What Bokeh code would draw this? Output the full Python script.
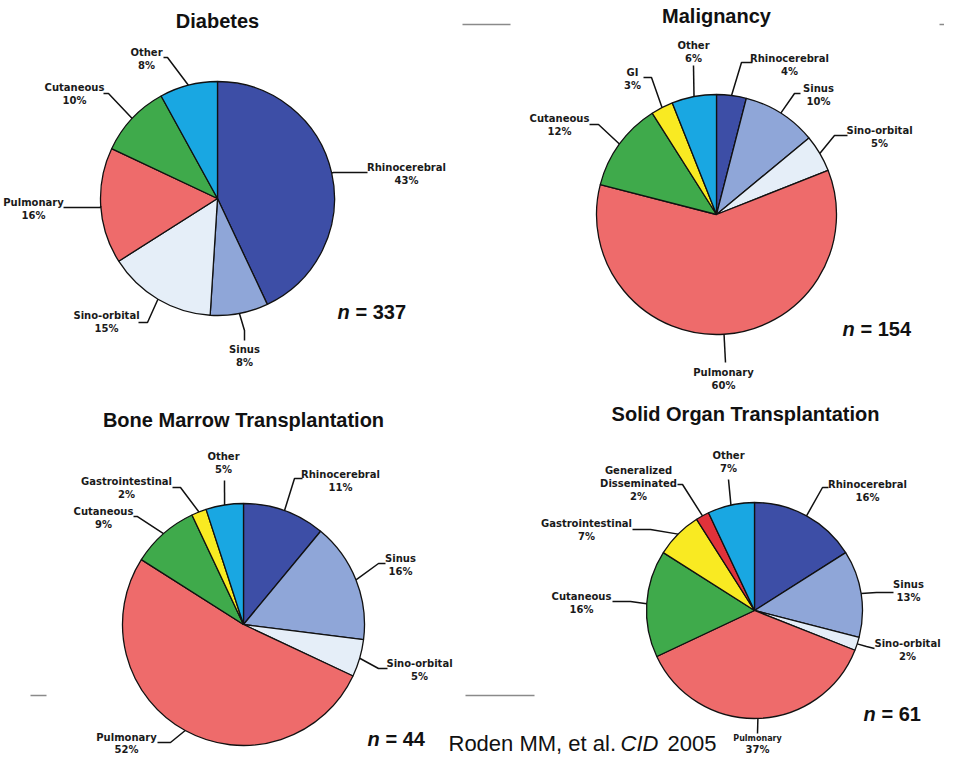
import math
from bokeh.plotting import figure
from bokeh.models import Range1d, ColumnDataSource
from bokeh.core.properties import value
from bokeh.embed import file_html
from bokeh.resources import INLINE

# ---------------- data ----------------
diab_cats = ["Rhinocerebral", "Sinus", "Sino-orbital", "Pulmonary", "Cutaneous", "Other"]
diab_vals = [43, 8, 15, 16, 10, 8]
diab_n = 337

malig_cats = ["Rhinocerebral", "Sinus", "Sino-orbital", "Pulmonary", "Cutaneous", "GI", "Other"]
malig_vals = [4, 10, 5, 60, 12, 3, 6]
malig_n = 154

bmt_cats = ["Rhinocerebral", "Sinus", "Sino-orbital", "Pulmonary", "Cutaneous", "Gastrointestinal", "Other"]
bmt_vals = [11, 16, 5, 52, 9, 2, 5]
bmt_n = 44

sot_cats = ["Rhinocerebral", "Sinus", "Sino-orbital", "Pulmonary", "Cutaneous",
            "Gastrointestinal", "Generalized Disseminated", "Other"]
sot_vals = [16, 13, 2, 37, 16, 7, 2, 7]
sot_n = 61

titles = ["Diabetes", "Malignancy", "Bone Marrow Transplantation", "Solid Organ Transplantation"]
citation = ["Roden MM, et al.", "CID", "2005"]

# ---------------- styles ----------------
COLORS = {
    "Rhinocerebral": "#3D4EA6",
    "Sinus": "#8FA6D8",
    "Sino-orbital": "#E5EEF8",
    "Pulmonary": "#EE6B6B",
    "Cutaneous": "#3FAA4B",
    "GI": "#F9EA22",
    "Gastrointestinal": "#F9EA22",
    "Generalized Disseminated": "#E0323A",
    "Other": "#19A7E2",
}
DISPLAY = {"Generalized Disseminated": ["Generalized", "Disseminated"]}

LABEL_FONT = "DejaVu Sans"
LABEL_SIZE = 10
TITLE_FONT = "Liberation Sans"

# layout (picture pixel coordinates): pie centre/radius, title, n-label, and for every
# slice: elbow point, leader end point, label anchor (first line centre)
LAYOUTS = [
    dict(c=(217, 198), r=117, title=(217, 20), n=(337, 311),
         lab=[((333, 172), (367, 172), (406, 167)),
              ((244, 330), (244, 340), (244, 349)),
              ((147, 322), (138, 322), (106, 315)),
              ((100, 207), (63, 207), (33, 202)),
              ((108, 93), (103, 93), (74, 87)),
              ((167, 57), (163, 57), (146, 52))]),
    dict(c=(716, 214), r=120, title=(716, 15), n=(842, 328),
         lab=[((741, 62), (752, 62), (789, 58)),
              ((794, 93), (800, 93), (818, 88)),
              ((834, 135), (847, 135), (879, 130)),
              ((725, 362), (725, 362), (723, 372)),
              ((598, 124), (589, 124), (559, 118)),
              ((651, 77), (643, 77), (632, 72)),
              ((693, 65), (693, 65), (693, 45))]),
    dict(c=(243, 624), r=121, title=(243, 419), n=(367, 738),
         lab=[((294, 478), (302, 478), (340, 474)),
              ((378, 563), (385, 563), (400, 558)),
              ((378, 668), (387, 668), (419, 663)),
              ((170, 742), (157, 742), (126, 737)),
              ((137, 516), (133, 516), (103, 511)),
              ((180, 487), (172, 487), (126, 481)),
              ((224, 480), (224, 480), (223, 456))]),
    dict(c=(754, 610), r=108, title=(745, 413), n=(863, 713),
         lab=[((822, 487), (828, 487), (867, 484)),
              ((876, 592), (893, 592), (908, 584)),
              ((866, 646), (874, 648), (907, 643)),
              ((757, 733), (757, 733), (757, 738)),
              ((630, 601), (612, 601), (581, 596)),
              ((650, 529), (632, 529), (586, 523)),
              ((682, 484), (677, 484), (638, 470)),
              ((728, 479), (728, 479), (728, 455))]),
]
SMALL_NAME = {(3, 3): 8}   # chart 4, Pulmonary name drawn smaller
LINE_GAP = {(3, 3): 11, (2, 3): 12}

charts = [
    (diab_cats, diab_vals, diab_n),
    (malig_cats, malig_vals, malig_n),
    (bmt_cats, bmt_vals, bmt_n),
    (sot_cats, sot_vals, sot_n),
]

W, H = 944, 757


def Y(yp):
    return H - yp


p = figure(width=W, height=H, x_range=Range1d(0, W), y_range=Range1d(0, H),
           output_backend="svg", toolbar_location=None,
           x_axis_location=None, y_axis_location=None, min_border=0)
p.grid.visible = False
p.outline_line_color = None
p.background_fill_color = "white"
p.border_fill_color = "white"

# decorative slide rules (grey strokes present in the original image)
p.multi_line(xs=[[462, 510], [939, 944], [30, 46], [465, 534]],
             ys=[[Y(24), Y(24)], [Y(24), Y(24)], [Y(695), Y(695)], [Y(695), Y(695)]],
             line_color="#8a8a8a", line_width=1.6)

wx, wy, wr, ws, we, wc = [], [], [], [], [], []
lxs, lys = [], []
tx, ty, tt, tsz = [], [], [], []

for ci, ((cats, vals, n), lay) in enumerate(zip(charts, LAYOUTS)):
    cx, cyp = lay["c"]
    r = lay["r"]
    total = float(sum(vals))
    cum = 0.0
    for si, (cat, v) in enumerate(zip(cats, vals)):
        a0 = 90.0 - cum / total * 360.0
        a1 = 90.0 - (cum + v) / total * 360.0
        cum += v
        wx.append(cx); wy.append(Y(cyp)); wr.append(r)
        ws.append(math.radians(a1)); we.append(math.radians(a0))
        wc.append(COLORS[cat])
        mid = math.radians((a0 + a1) / 2.0)
        px, py = cx + r * math.cos(mid), Y(cyp) + r * math.sin(mid)
        (ex, ey), (hx, hy), (lx, ly) = lay["lab"][si]
        lxs.append([px, ex, hx]); lys.append([py, Y(ey), Y(hy)])
        lines = DISPLAY.get(cat, [cat]) + ["%d%%" % v]
        gap = LINE_GAP.get((ci, si), 13)
        for k, t in enumerate(lines):
            tx.append(lx); ty.append(Y(ly + gap * k)); tt.append(t)
            size = LABEL_SIZE
            if k < len(lines) - 1 and (ci, si) in SMALL_NAME:
                size = SMALL_NAME[(ci, si)]
            tsz.append("%gpx" % size)

p.wedge(x="x", y="y", radius="r", start_angle="s", end_angle="e", fill_color="c",
        line_color="#111111", line_width=1.3,
        source=ColumnDataSource(dict(x=wx, y=wy, r=wr, s=ws, e=we, c=wc)))
p.multi_line(xs=lxs, ys=lys, line_color="#111111", line_width=1.5)
p.text(x="x", y="y", text="t", text_font_size="s", source=ColumnDataSource(dict(x=tx, y=ty, t=tt, s=tsz)),
       text_font=value(LABEL_FONT), text_font_style="bold", text_color="#1a1a1a",
       text_align="center", text_baseline="middle")

# titles
p.text(x=[l["title"][0] for l in LAYOUTS], y=[Y(l["title"][1]) for l in LAYOUTS], text=titles,
       text_font=value(TITLE_FONT), text_font_style="bold", text_font_size="20px",
       text_color="#111111", text_align="center", text_baseline="middle")

# n = ...
p.text(x=[l["n"][0] for l in LAYOUTS], y=[Y(l["n"][1]) for l in LAYOUTS], text=["n"] * 4,
       text_font=value(TITLE_FONT), text_font_style="bold italic", text_font_size="20px",
       text_color="#111111", text_align="left", text_baseline="middle")
p.text(x=[l["n"][0] + 18 for l in LAYOUTS], y=[Y(l["n"][1]) for l in LAYOUTS],
       text=["= %d" % c[2] for c in charts],
       text_font=value(TITLE_FONT), text_font_style="bold", text_font_size="20px",
       text_color="#111111", text_align="left", text_baseline="middle")

# citation
CY = 743
p.text(x=[448], y=[Y(CY)], text=[citation[0]], text_font=value(TITLE_FONT), text_font_size="22px",
       text_color="#111111", text_align="left", text_baseline="middle")
p.text(x=[639], y=[Y(CY)], text=[citation[1]], text_font=value(TITLE_FONT), text_font_style="italic",
       text_font_size="22px", text_color="#111111", text_align="center", text_baseline="middle")
p.text(x=[667], y=[Y(CY)], text=[citation[2]], text_font=value(TITLE_FONT), text_font_size="22px",
       text_color="#111111", text_align="left", text_baseline="middle")

open("out.html", "w").write(file_html(p, INLINE))
